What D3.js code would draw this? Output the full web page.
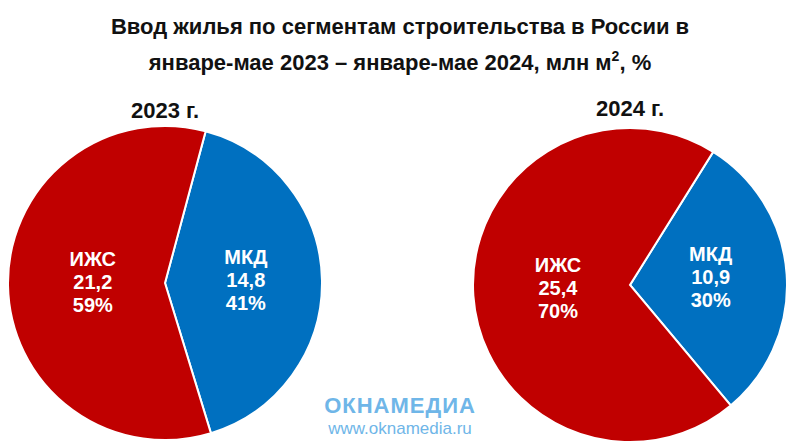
<!DOCTYPE html>
<html><head><meta charset="utf-8">
<script src="https://cdn.jsdelivr.net/npm/d3@7"></script>
<style>body{margin:0;background:#fff}</style>
</head><body>
<svg width="800" height="445"></svg>
<script>
var years = ["2023 г.", "2024 г."];
var segments = ["ИЖС", "МКД"];
var values2023 = [21.2, 14.8];
var values2024 = [25.4, 10.9];
var shares2023 = ["59%", "41%"];
var shares2024 = ["70%", "30%"];
var colors = ["#c00000", "#0070c0"];

var svg = d3.select("svg");
var font = "'Liberation Sans', Arial, sans-serif";

svg.append("text").attr("x", 400).attr("y", 34).attr("text-anchor", "middle")
  .attr("font-family", font).attr("font-weight", "bold").attr("font-size", 22).attr("fill", "#111")
  .text("Ввод жилья по сегментам строительства в России в");
var t2 = svg.append("text").attr("x", 400).attr("y", 70).attr("text-anchor", "middle")
  .attr("font-family", font).attr("font-weight", "bold").attr("font-size", 22).attr("fill", "#111");
t2.append("tspan").text("январе-мае 2023 – январе-мае 2024, млн м");
t2.append("tspan").attr("font-size", 14).attr("dy", -9).text("2");
t2.append("tspan").attr("dy", 9).text(", %");

var pies = [
  {year: years[0], vals: values2023, shares: shares2023, cx: 165, cy: 283, start: 15, ty: 118},
  {year: years[1], vals: values2024, shares: shares2024, cx: 630, cy: 285, start: 32, ty: 116}
];
var r = 157;
var arc = d3.arc().innerRadius(0).outerRadius(r);

pies.forEach(function(p) {
  var a0 = p.start * Math.PI / 180;
  // МКД (blue) clockwise from the start angle, then ИЖС (red)
  var data = [1, 0].map(i => ({i: i, v: p.vals[i]}));
  var pie = d3.pie().sort(null).value(d => d.v).startAngle(a0).endAngle(a0 + 2 * Math.PI);
  var arcs = pie(data);
  var g = svg.append("g").attr("transform", "translate(" + p.cx + "," + p.cy + ")");
  g.selectAll("path").data(arcs).enter().append("path")
    .attr("d", arc).attr("fill", d => colors[d.data.i])
    .attr("stroke", "#fff").attr("stroke-width", 2);
  arcs.forEach(function(d) {
    var i = d.data.i;
    var c = d3.arc().innerRadius(0).outerRadius(r * (i == 0 ? 0.92 : 1.03)).centroid(d);
    var tx = g.append("text").attr("x", c[0]).attr("y", c[1] - 18).attr("text-anchor", "middle")
      .attr("font-family", font).attr("font-weight", "bold").attr("font-size", 20).attr("fill", "#fff");
    [segments[i], String(p.vals[i]).replace(".", ","), p.shares[i]].forEach(function(s, k) {
      tx.append("tspan").attr("x", c[0]).attr("dy", k ? 23 : 0).text(s);
    });
  });
  svg.append("text").attr("x", p.cx).attr("y", p.ty).attr("text-anchor", "middle")
    .attr("font-family", font).attr("font-weight", "bold").attr("font-size", 22).attr("fill", "#111")
    .text(p.year);
});

svg.append("text").attr("x", 400).attr("y", 413).attr("text-anchor", "middle")
  .attr("font-family", font).attr("font-weight", "bold").attr("font-size", 22)
  .attr("fill", "#6fb6e8").attr("letter-spacing", 1).text("ОКНАМЕДИА");
svg.append("text").attr("x", 400).attr("y", 434).attr("text-anchor", "middle")
  .attr("font-family", font).attr("font-size", 17).attr("fill", "#6fb6e8")
  .text("www.oknamedia.ru");
</script>
</body></html>
